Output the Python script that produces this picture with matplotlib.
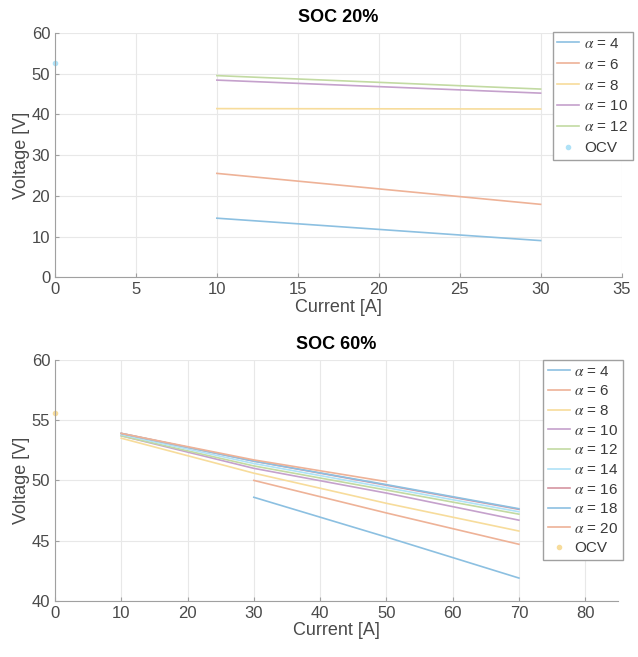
import matplotlib.pyplot as plt
import numpy as np

plt.rcParams['font.family'] = ['Liberation Sans', 'DejaVu Sans']
plt.rcParams['mathtext.fontset'] = 'stix'

# SOC 20% data
i20 = [10, 30]
alpha20 = [4, 6, 8, 10, 12]
v20_a4 = [14.5, 9.0]
v20_a6 = [25.5, 17.9]
v20_a8 = [41.4, 41.3]
v20_a10 = [48.4, 45.2]
v20_a12 = [49.5, 46.2]
ocv20_i = [0]
ocv20_v = [52.6]

# SOC 60% data
i60_full = [10, 30, 50, 70]
i60_from30 = [30, 50, 70]
i60_to50 = [10, 30, 50]
alpha60 = [4, 6, 8, 10, 12, 14, 16, 18, 20]
v60_a4 = [48.6, 45.3, 41.9]
v60_a6 = [50.0, 47.3, 44.7]
v60_a8 = [53.5, 50.6, 48.1, 45.8]
v60_a10 = [53.7, 51.0, 48.95, 46.7]
v60_a12 = [53.7, 51.2, 49.2, 47.2]
v60_a14 = [53.8, 51.4, 49.4, 47.4]
v60_a16 = [53.9, 51.6, 49.6, 47.6]
v60_a18 = [53.9, 51.6, 49.65, 47.65]
v60_a20 = [53.9, 51.7, 49.9]
ocv60_i = [0]
ocv60_v = [55.6]

#matlab default colours, washed out like the screenshot
mcol = [(0, 0.447, 0.741), (0.85, 0.325, 0.098), (0.929, 0.694, 0.125),
        (0.494, 0.184, 0.556), (0.466, 0.674, 0.188), (0.301, 0.745, 0.933),
        (0.635, 0.078, 0.184)]
def fade(c, k=0.45):
    return tuple(1 - (1 - x) * k for x in c)
cols = [fade(mcol[i % 7]) for i in range(10)]

def style(ax):
    ax.grid(True, color='#e8e8e8', linewidth=0.8)
    ax.set_axisbelow(True)
    for s in ['top', 'right']:
        ax.spines[s].set_visible(False)
    for s in ['left', 'bottom']:
        ax.spines[s].set_color('#a0a0a0')
    ax.tick_params(direction='in', length=3, color='#a0a0a0', labelcolor='#4a4a4a', labelsize=12)

leg_kw = dict(fontsize=11, handlelength=1.45, handletextpad=0.3, borderpad=0.3, borderaxespad=0,
              fancybox=False, edgecolor='#a0a0a0', framealpha=1, labelcolor='#3a3a3a')

fig = plt.figure(figsize=(6.38, 6.57), dpi=100)

ax1 = fig.add_axes([0.0862, 0.578, 0.888, 0.372])
ys20 = [v20_a4, v20_a6, v20_a8, v20_a10, v20_a12]
for k in range(len(alpha20)):
    ax1.plot(i20, ys20[k], color=cols[k], lw=1.2, label='$\\alpha$ = ' + str(alpha20[k]))
ax1.plot(ocv20_i, ocv20_v, '.', color=cols[5], ms=6, label='OCV', clip_on=False)
ax1.set_xlim(0, 35)
ax1.set_ylim(0, 60)
ax1.set_xticks(np.arange(0, 36, 5))
ax1.set_yticks(np.arange(0, 61, 10))
style(ax1)
ax1.set_title('SOC 20%', fontsize=13, fontweight='bold', pad=8)
ax1.set_xlabel('Current [A]', fontsize=13, color='#4a4a4a', labelpad=1)
ax1.set_ylabel('Voltage [V]', fontsize=13, color='#4a4a4a', labelpad=1)
ax1.legend(loc='upper left', bbox_to_anchor=(0.866, 0.951), bbox_transform=fig.transFigure,
           labelspacing=0.45, **leg_kw)

ax2 = fig.add_axes([0.0862, 0.0853, 0.883, 0.367])
xs60 = [i60_from30, i60_from30, i60_full, i60_full, i60_full, i60_full, i60_full, i60_full, i60_to50]
ys60 = [v60_a4, v60_a6, v60_a8, v60_a10, v60_a12, v60_a14, v60_a16, v60_a18, v60_a20]
for k in range(len(alpha60)):
    ax2.plot(xs60[k], ys60[k], color=cols[k], lw=1.2, label='$\\alpha$ = ' + str(alpha60[k]))
ax2.plot(ocv60_i, ocv60_v, '.', color=cols[9], ms=6, label='OCV', clip_on=False)
ax2.set_xlim(0, 85)
ax2.set_ylim(40, 60)
ax2.set_xticks(np.arange(0, 81, 10))
ax2.set_yticks(np.arange(40, 61, 5))
style(ax2)
ax2.set_title('SOC 60%', fontsize=13, fontweight='bold', pad=8)
ax2.set_xlabel('Current [A]', fontsize=13, color='#4a4a4a', labelpad=1)
ax2.set_ylabel('Voltage [V]', fontsize=13, color='#4a4a4a', labelpad=1)
ax2.legend(loc='upper left', bbox_to_anchor=(0.851, 0.452), bbox_transform=fig.transFigure,
           labelspacing=0.37, **leg_kw)

fig.savefig('out.png', dpi=100)
